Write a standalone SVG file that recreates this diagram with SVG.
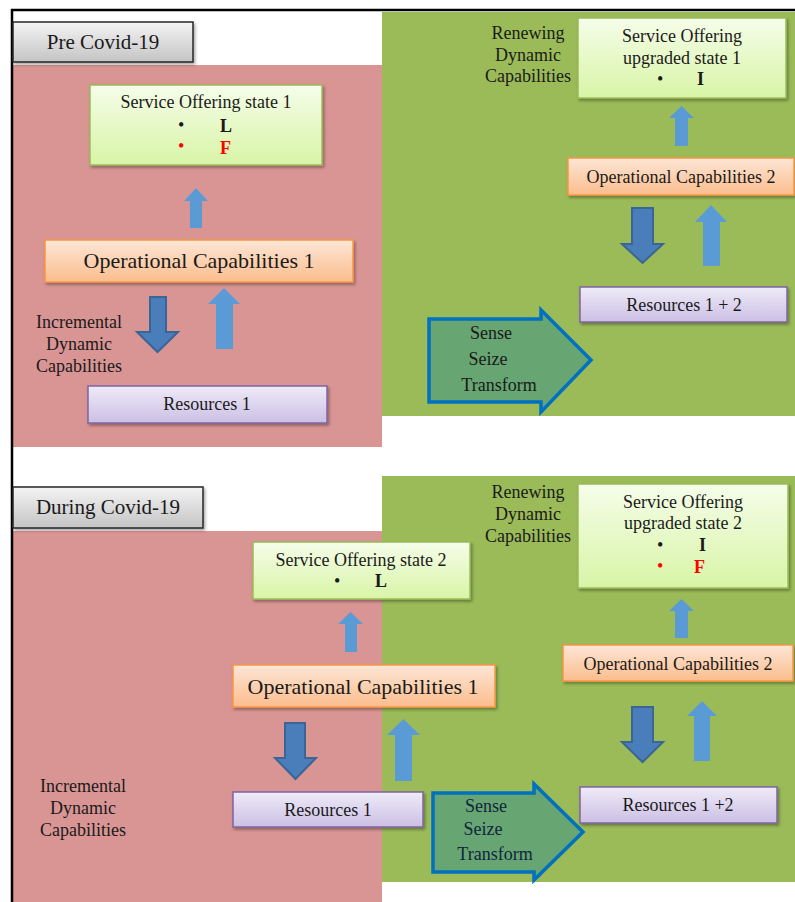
<svg xmlns="http://www.w3.org/2000/svg" width="795" height="902" viewBox="0 0 795 902">
<style>
text{font-family:"Liberation Serif","Times New Roman",serif;fill:#1a1a1a}
.t18{font-size:18px}
.t22{font-size:22px}
.t21{font-size:21px}
.c{text-anchor:middle}
.b{font-weight:bold;font-size:18px}
.red{fill:#ff0000}
.so{fill:url(#gGreen);stroke:#9bbb59;stroke-width:1.5}
.oc{fill:url(#gOrange);stroke:#f79646;stroke-width:1.5}
.rs{fill:url(#gPurple);stroke:#8064a2;stroke-width:1.5}
.lb{fill:url(#gGray);stroke:#262626;stroke-width:1.5}
.up{fill:#5b9bd5}
.dn{fill:#4a7ebb;stroke:#3a6594;stroke-width:2}
.sst{fill:#67a572;stroke:#0070c0;stroke-width:3.5}
.sh{filter:url(#shadow)}
</style>
<defs>
<linearGradient id="gGreen" x1="0" y1="0" x2="0" y2="1"><stop offset="0" stop-color="#f5fde9"/><stop offset="1" stop-color="#d8f5a6"/></linearGradient>
<linearGradient id="gOrange" x1="0" y1="0" x2="0" y2="1"><stop offset="0" stop-color="#fde6d6"/><stop offset="1" stop-color="#fbbd8d"/></linearGradient>
<linearGradient id="gPurple" x1="0" y1="0" x2="0" y2="1"><stop offset="0" stop-color="#efebf8"/><stop offset="1" stop-color="#cbbfe4"/></linearGradient>
<linearGradient id="gGray" x1="0" y1="0" x2="0" y2="1"><stop offset="0" stop-color="#f4f4f4"/><stop offset="1" stop-color="#c4c4c4"/></linearGradient>
<filter id="shadow" x="-10%" y="-20%" width="125%" height="150%"><feDropShadow dx="1.5" dy="2" stdDeviation="1.5" flood-color="#000" flood-opacity="0.35"/></filter>
</defs>
<rect width="795" height="902" fill="#ffffff"/>
<!-- backgrounds -->
<g id="backgrounds">
<rect x="12" y="65" width="370" height="382" fill="#d99594"/>
<rect x="382" y="12" width="413" height="404" fill="#9bbb59"/>
<rect x="12" y="531" width="370" height="371" fill="#d99594"/>
<rect x="382" y="476" width="413" height="406" fill="#9bbb59"/>
<path d="M12 902 V10 H795" fill="none" stroke="#000" stroke-width="2.5"/>
</g>
<!-- connectors -->
<g id="connectors">
<polygon class="up" points="196,188 208,201 202,201 202,228 190,228 190,201 184,201"/>
<polygon class="up" points="224,288 240,304 233,304 233,349 216,349 216,304 208,304"/>
<polygon class="dn" points="150,297 166,297 166,332 178,332 157.5,352 137,332 150,332"/>
<polygon class="up" points="681.5,106 694,118 688,118 688,146 675,146 675,118 669,118"/>
<polygon class="dn" points="632,208 653,208 653,244 663,244 642.5,263 622,244 632,244"/>
<polygon class="up" points="711,205 727,222 720,222 720,266 703,266 703,222 695,222"/>
<polygon class="sst" points="429,319 541,319 541,310 591,360 541,412 541,402 429,402"/>
<polygon class="up" points="350.5,612 363,624 357,624 357,652 345,652 345,624 338,624"/>
<polygon class="dn" points="285,723 305,723 305,758 316,758 295.5,779 275,758 285,758"/>
<polygon class="up" points="403.5,719 420,735 412,735 412,781 395,781 395,735 387,735"/>
<polygon class="dn" points="632,707 653,707 653,742 663,742 642.5,762 622,742 632,742"/>
<polygon class="up" points="702,701 717,716 710,716 710,761 694,761 694,716 687,716"/>
<polygon class="up" points="681.5,599 694,611 688,611 688,638 675,638 675,611 669,611"/>
<polygon class="sst" points="433,793 534,793 534,784 583,832 534,880 534,872 433,872"/>
</g>
<!-- top section -->
<g id="label-pre">
<rect class="lb sh" x="13" y="22" width="180" height="40"/>
<text class="t21 c" x="103" y="49">Pre Covid-19</text>
</g>
<g id="so1">
<rect class="so sh" x="90" y="85" width="232" height="80"/>
<text class="t18 c" x="206" y="108">Service Offering state 1</text>
<text class="t18" x="178" y="131">•</text>
<text class="b" x="220" y="132">L</text>
<text class="t18 red" x="178" y="152">•</text>
<text class="b red" x="220" y="154">F</text>
</g>
<g id="oc1-top">
<rect class="oc sh" x="45" y="240" width="308" height="42"/>
<text class="t22 c" x="199" y="268">Operational Capabilities 1</text>
</g>
<g id="idc-top">
<text class="t18 c" x="79" y="328">Incremental</text>
<text class="t18 c" x="79" y="350">Dynamic</text>
<text class="t18 c" x="79" y="372">Capabilities</text>
</g>
<g id="r1-top">
<rect class="rs sh" x="88" y="386" width="239" height="37"/>
<text class="t18 c" x="207" y="410">Resources 1</text>
</g>
<g id="rdc-top">
<text class="t18 c" x="528" y="39">Renewing</text>
<text class="t18 c" x="528" y="61">Dynamic</text>
<text class="t18 c" x="528" y="82">Capabilities</text>
</g>
<g id="sou1">
<rect class="so sh" x="578" y="18" width="208" height="80"/>
<text class="t18 c" x="682" y="42">Service Offering</text>
<text class="t18 c" x="682" y="64">upgraded state 1</text>
<text class="t18" x="657" y="85">•</text>
<text class="b" x="697" y="85">I</text>
</g>
<g id="oc2-top">
<rect class="oc sh" x="568" y="158" width="226" height="37"/>
<text class="t18 c" x="681" y="183">Operational Capabilities 2</text>
</g>
<g id="r12-top">
<rect class="rs sh" x="580" y="287" width="207" height="35"/>
<text class="t18 c" x="684" y="311">Resources 1 + 2</text>
</g>
<g id="sst-top">
<text class="t18 c" x="491" y="339">Sense</text>
<text class="t18 c" x="488" y="365">Seize</text>
<text class="t18 c" x="499" y="391">Transform</text>
</g>
<!-- bottom section -->
<g id="label-during">
<rect class="lb sh" x="13" y="487" width="190" height="41"/>
<text class="t21 c" x="108" y="514">During Covid-19</text>
</g>
<g id="so2">
<rect class="so sh" x="253" y="542" width="217" height="57"/>
<text class="t18 c" x="361" y="566">Service Offering state 2</text>
<text class="t18" x="334" y="587">•</text>
<text class="b" x="375" y="587">L</text>
</g>
<g id="oc1-bottom">
<rect class="oc sh" x="233" y="665" width="262" height="42"/>
<text class="t22 c" x="363" y="694">Operational Capabilities 1</text>
</g>
<g id="idc-bottom">
<text class="t18 c" x="83" y="792">Incremental</text>
<text class="t18 c" x="83" y="814">Dynamic</text>
<text class="t18 c" x="83" y="836">Capabilities</text>
</g>
<g id="r1-bottom">
<rect class="rs sh" x="233" y="792" width="190" height="35"/>
<text class="t18 c" x="328" y="816">Resources 1</text>
</g>
<g id="rdc-bottom">
<text class="t18 c" x="528" y="498">Renewing</text>
<text class="t18 c" x="528" y="520">Dynamic</text>
<text class="t18 c" x="528" y="542">Capabilities</text>
</g>
<g id="sou2">
<rect class="so sh" x="578" y="484" width="210" height="104"/>
<text class="t18 c" x="683" y="508">Service Offering</text>
<text class="t18 c" x="683" y="529">upgraded state 2</text>
<text class="t18" x="657" y="551">•</text>
<text class="b" x="699" y="551">I</text>
<text class="t18 red" x="657" y="572">•</text>
<text class="b red" x="694" y="573">F</text>
</g>
<g id="oc2-bottom">
<rect class="oc sh" x="563" y="645" width="230" height="36"/>
<text class="t18 c" x="678" y="670">Operational Capabilities 2</text>
</g>
<g id="r12-bottom">
<rect class="rs sh" x="580" y="787" width="197" height="36"/>
<text class="t18 c" x="678" y="811">Resources 1 +2</text>
</g>
<g id="sst-bottom">
<text class="t18 c" x="486" y="812" style="fill:#10253f">Sense</text>
<text class="t18 c" x="483" y="835" style="fill:#10253f">Seize</text>
<text class="t18 c" x="495" y="860" style="fill:#10253f">Transform</text>
</g>
</svg>
